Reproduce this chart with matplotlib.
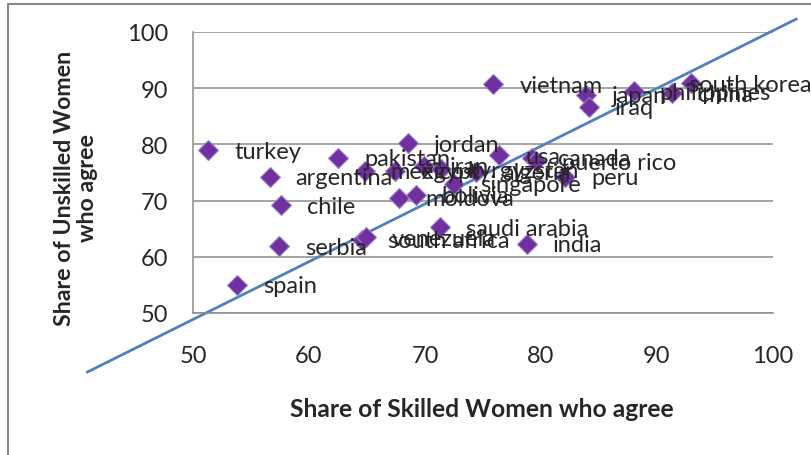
import matplotlib
matplotlib.use("Agg")
import matplotlib.pyplot as plt
from matplotlib.patches import Rectangle

countries = ["turkey", "argentina", "chile", "serbia", "spain", "pakistan", "mexico",
             "jordan", "egypt", "iran", "kyrgyzstan", "algeria", "singapore", "bolivia",
             "moldova", "south africa", "venezuela", "saudi arabia", "india", "usa",
             "canada", "puerto rico", "peru", "vietnam", "japan", "iraq", "philippines",
             "south korea", "china"]
skilled = [51.3, 56.6, 57.6, 57.4, 53.8, 62.5, 64.8,
           68.5, 67.4, 69.9, 71.4, 74.4, 72.5, 69.2,
           67.8, 64.6, 64.9, 71.3, 78.8, 76.4,
           79.2, 79.6, 82.1, 75.9, 83.9, 84.1, 88.0,
           92.9, 91.3]
unskilled = [79.0, 74.2, 69.2, 61.9, 55.0, 77.6, 75.3,
             80.2, 75.3, 76.2, 75.6, 75.1, 73.0, 71.0,
             70.5, 63.0, 63.5, 65.3, 62.3, 78.1,
             77.6, 77.0, 74.2, 90.7, 88.8, 86.7, 89.5,
             90.9, 89.1]
line_x = [40.9, 102.0]
line_y = [39.5, 102.3]
x_ticks = [50, 60, 70, 80, 90, 100]
y_ticks = [50, 60, 70, 80, 90, 100]

plt.rcParams['font.family'] = ['Lato', 'DejaVu Sans']

W, H = 812, 456
TXT = '#262626'
fig = plt.figure(figsize=(W / 100, H / 100), dpi=100)
ax = fig.add_axes([193 / W, 1 - 314 / H, (773 - 193) / W, (314 - 33) / H])

ax.set_xlim(50, 100)
ax.set_ylim(50, 100)
ax.set_xticks(x_ticks)
ax.set_yticks(y_ticks)
ax.tick_params(axis='x', length=0, pad=23, labelsize=17, colors=TXT)
ax.tick_params(axis='y', length=0, pad=18, labelsize=17, colors=TXT)
ax.grid(axis='y', color='#8c8c8c', linewidth=1.1)
ax.set_axisbelow(True)
for s in ['top', 'right']:
    ax.spines[s].set_visible(False)
ax.spines['left'].set_color('#8c8c8c')
ax.spines['bottom'].set_color('#8c8c8c')
ax.spines['left'].set_linewidth(1.1)
ax.spines['bottom'].set_linewidth(1.1)

ax.plot(line_x, line_y, color='#4f81bd', linewidth=2, clip_on=False, zorder=2)
ax.plot(skilled, unskilled, linestyle='none', marker='D', markersize=10,
        markerfacecolor='#7030a0', markeredgecolor='#9b7fc8', markeredgewidth=0.8,
        clip_on=False, zorder=3)

nudge = {"south korea": -28}
for name, xv, yv in zip(countries, skilled, unskilled):
    ax.annotate(name, (xv, yv), xytext=(26 + nudge.get(name, 0), -1),
                textcoords='offset pixels', ha='left', va='center',
                fontsize=17, color=TXT, zorder=4, annotation_clip=False)

fig.text(76 / W, 1 - 188 / H, "Share of Unskilled Women\nwho agree", rotation=90,
         ha='center', va='center', multialignment='center', fontsize=16.7,
         fontweight='bold', color=TXT, linespacing=1.15)
fig.text(482 / W, 1 - 410 / H, "Share of Skilled Women who agree", ha='center',
         va='center', fontsize=17.7, fontweight='bold', color=TXT)

fig.add_artist(Rectangle((8 / W, -0.2), 1.2, 1 - 5 / H + 0.2, transform=fig.transFigure,
                         fill=False, edgecolor='#8a8a8a', linewidth=1.5))

fig.savefig("out.png", dpi=100)
